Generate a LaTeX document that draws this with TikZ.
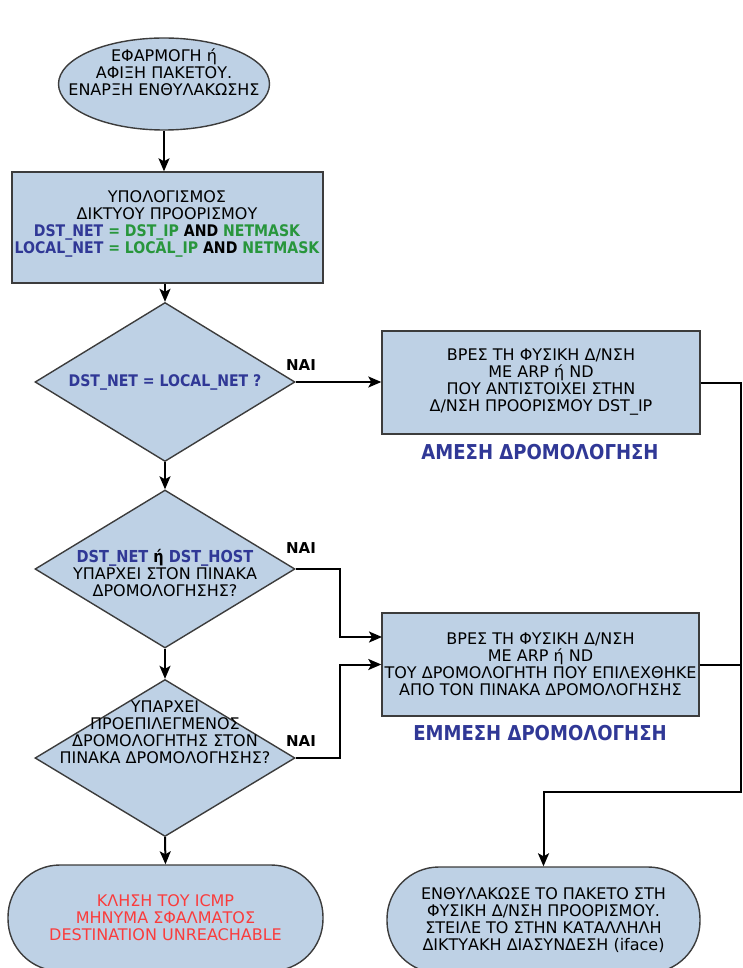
\documentclass[tikz,border=0pt]{standalone}
\usepackage{fontspec}
\setmainfont{DejaVu Sans}
\newfontfamily\condfont{DejaVu Sans}[FakeStretch=0.88]
\usetikzlibrary{shapes.geometric,arrows.meta}
\definecolor{boxfill}{RGB}{190,209,229}
\definecolor{boxline}{RGB}{60,60,60}
\definecolor{netblue}{RGB}{48,56,150}
\definecolor{netgreen}{RGB}{40,150,60}
\definecolor{errred}{RGB}{250,60,60}
\begin{document}
\begin{tikzpicture}[x=1pt,y=-1pt,
  shapebase/.style={draw=boxline, line width=1.4pt, fill=boxfill, inner sep=0pt},
  procbox/.style={shapebase, rectangle, align=center, font=\fontsize{16}{17}\selectfont},
  decision/.style={shapebase, diamond},
  terminal/.style={shapebase, rectangle, rounded corners=52pt, align=center, font=\fontsize{16}{17}\selectfont},
  txt/.style={align=center, inner sep=0pt, font=\fontsize{16}{17}\selectfont},
  boldtxt/.style={font=\condfont\bfseries\fontsize{16}{17}\selectfont},
  nai/.style={inner sep=0pt, font=\bfseries\fontsize{15}{17}\selectfont},
  routelabel/.style={inner sep=0pt, text=netblue, font=\condfont\bfseries\fontsize{20.5}{22}\selectfont},
  arr/.style={line width=2pt, -{Stealth[length=13pt,width=11pt,inset=3pt]}},
  conn/.style={line width=2pt}]
\useasboundingbox (0,0) rectangle (743,968);

% start ellipse
\node[shapebase, ellipse, minimum width=211pt, minimum height=92pt] (start) at (164,84) {};
\node[txt] (starttxt) at (164,72) {ΕΦΑΡΜΟΓΗ ή\\ΑΦΙΞΗ ΠΑΚΕΤΟΥ.\\ΕΝΑΡΞΗ ΕΝΘΥΛΑΚΩΣΗΣ};

% network computation
\node[procbox, minimum width=311pt, minimum height=111pt] (calc) at (167.5,227.5) {};
\node[txt] (calctxt) at (167,223.5) {ΥΠΟΛΟΓΙΣΜΟΣ\\ΔΙΚΤΥΟΥ ΠΡΟΟΡΙΣΜΟΥ\\
  {\condfont\bfseries\fontsize{16}{17}\selectfont\color{netblue}DST\_NET \color{netgreen}= DST\_IP \color{black}AND \color{netgreen}NETMASK}\\
  {\condfont\bfseries\fontsize{16}{17}\selectfont\color{netblue}LOCAL\_NET \color{netgreen}= LOCAL\_IP \color{black}AND \color{netgreen}NETMASK}};

% decision 1
\node[decision, minimum width=260pt, minimum height=159pt] (d1) at (165,382) {};
\node[txt, boldtxt, text=netblue] (d1txt) at (165,382) {DST\_NET = LOCAL\_NET ?};

% decision 2
\node[decision, minimum width=260pt, minimum height=158pt] (d2) at (165,569) {};
\node[txt] (d2txt) at (165,573) {{\condfont\bfseries\fontsize{16.5}{17}\selectfont\color{netblue}DST\_NET \color{black}ή \color{netblue}DST\_HOST}\\ΥΠΑΡΧΕΙ ΣΤΟΝ ΠΙΝΑΚΑ\\ΔΡΟΜΟΛΟΓΗΣΗΣ?};

% decision 3
\node[decision, minimum width=260pt, minimum height=157pt] (d3) at (165,758) {};
\node[txt] (d3txt) at (165,732) {ΥΠΑΡΧΕΙ\\ΠΡΟΕΠΙΛΕΓΜΕΝΟΣ\\ΔΡΟΜΟΛΟΓΗΤΗΣ ΣΤΟΝ\\ΠΙΝΑΚΑ ΔΡΟΜΟΛΟΓΗΣΗΣ?};

% error terminal
\node[terminal, minimum width=315pt, minimum height=106pt, text=errred] (err) at (165.5,918) {ΚΛΗΣΗ ΤΟΥ ICMP\\ΜΗΝΥΜΑ ΣΦΑΛΜΑΤΟΣ\\DESTINATION UNREACHABLE};

% direct routing box
\node[procbox, minimum width=318pt, minimum height=103pt] (direct) at (541,382.5) {ΒΡΕΣ ΤΗ ΦΥΣΙΚΗ Δ/ΝΣΗ\\ΜΕ ARP ή ND\\ΠΟΥ ΑΝΤΙΣΤΟΙΧΕΙ ΣΤΗΝ\\Δ/ΝΣΗ ΠΡΟΟΡΙΣΜΟΥ DST\_IP};
\node[routelabel] (directlbl) at (540,452) {ΑΜΕΣΗ ΔΡΟΜΟΛΟΓΗΣΗ};

% indirect routing box
\node[procbox, minimum width=317pt, minimum height=103pt] (indirect) at (540.5,664.5) {ΒΡΕΣ ΤΗ ΦΥΣΙΚΗ Δ/ΝΣΗ\\ΜΕ ARP ή ND\\ΤΟΥ ΔΡΟΜΟΛΟΓΗΤΗ ΠΟΥ ΕΠΙΛΕΧΘΗΚΕ\\ΑΠΟ ΤΟΝ ΠΙΝΑΚΑ ΔΡΟΜΟΛΟΓΗΣΗΣ};
\node[routelabel] (indirectlbl) at (540,733) {ΕΜΜΕΣΗ ΔΡΟΜΟΛΟΓΗΣΗ};

% send terminal
\node[terminal, minimum width=313pt, minimum height=106pt] (send) at (543.5,920) {ΕΝΘΥΛΑΚΩΣΕ ΤΟ ΠΑΚΕΤΟ ΣΤΗ\\ΦΥΣΙΚΗ Δ/ΝΣΗ ΠΡΟΟΡΙΣΜΟΥ.\\ΣΤΕΙΛΕ ΤΟ ΣΤΗΝ ΚΑΤΑΛΛΗΛΗ\\ΔΙΚΤΥΑΚΗ ΔΙΑΣΥΝΔΕΣΗ (iface)};

% NAI labels
\node[nai] (nai1) at (301,365) {NAI};
\node[nai] (nai2) at (301,548) {NAI};
\node[nai] (nai3) at (301,741) {NAI};

% helper coordinates
\coordinate (jx) at (340,0);
\coordinate (rx) at (741,0);
\coordinate (bend) at (0,792);
\coordinate (in1) at (382,637);

% connectors
\draw[arr] (start.south) -- (start.south |- calc.north);
\draw[arr] (calc.south -| d1.north) -- (d1.north);
\draw[arr] (d1.south) -- (d2.north);
\draw[arr] (d2.south) -- (d3.north);
\draw[arr] (d3.south) -- (err.north);
\draw[arr] (d1.east) -- (d1.east -| direct.west);
\draw[arr] (d2.east) -- (d2.east -| jx) |- (in1);
\draw[arr] (d3.east) -- (d3.east -| jx) |- (indirect.west);
\draw[conn] (indirect.east) -- (indirect.east -| rx);
\draw[arr] (direct.east) -- (direct.east -| rx) -- (rx |- bend) -- (bend -| send.north) -- (send.north);
\end{tikzpicture}
\end{document}
